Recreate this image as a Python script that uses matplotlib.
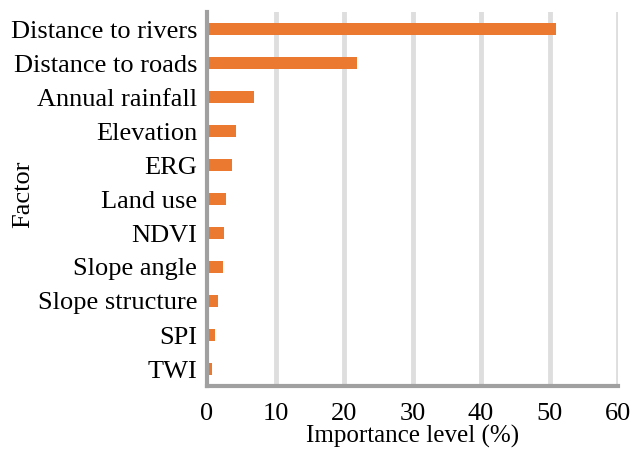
import matplotlib.pyplot as plt
import numpy as np

# factor importance, top to bottom
factors = ["Distance to rivers", "Distance to roads", "Annual rainfall", "Elevation", "ERG",
           "Land use", "NDVI", "Slope angle", "Slope structure", "SPI", "TWI"]
importance = [51.0, 21.9, 6.9, 4.2, 3.7, 2.8, 2.5, 2.4, 1.6, 1.1, 0.7]

plt.rcParams['font.family'] = ['Liberation Serif', 'DejaVu Serif']

fig = plt.figure(figsize=(6.3, 4.53), dpi=100)
ax = fig.add_axes([207 / 630, 1 - 386 / 453, (618 - 207) / 630, (386 - 12) / 453])

y = np.arange(len(factors))
ax.barh(y, importance, height=0.35, color="#EB7A30", zorder=3)

ax.set_ylim(len(factors) - 0.5, -0.5)
ax.set_yticks(y)
ax.set_yticklabels(factors, fontsize=19)
ax.set_xlim(0, 60)
ax.set_xticks(range(0, 61, 10))
ax.tick_params(axis="x", labelsize=19, length=0, pad=12)
ax.tick_params(axis="y", length=0, pad=7)

ax.grid(axis="x", color="#dedede", linewidth=3.5, zorder=0)
ax.xaxis.get_gridlines()[0].set_visible(False)

for side in ["top", "right"]:
    ax.spines[side].set_visible(False)
for side in ["left", "bottom"]:
    ax.spines[side].set_color("#a0a0a0")
    ax.spines[side].set_linewidth(3)
    ax.spines[side].set_zorder(4)

ax.set_xlabel("Importance level (%)", fontsize=18)
ax.xaxis.set_label_coords(0.5, -0.105)
ax.set_ylabel("Factor", fontsize=19)
ax.yaxis.set_label_coords(-0.42, 0.513)

fig.savefig("out.png", dpi=100)
